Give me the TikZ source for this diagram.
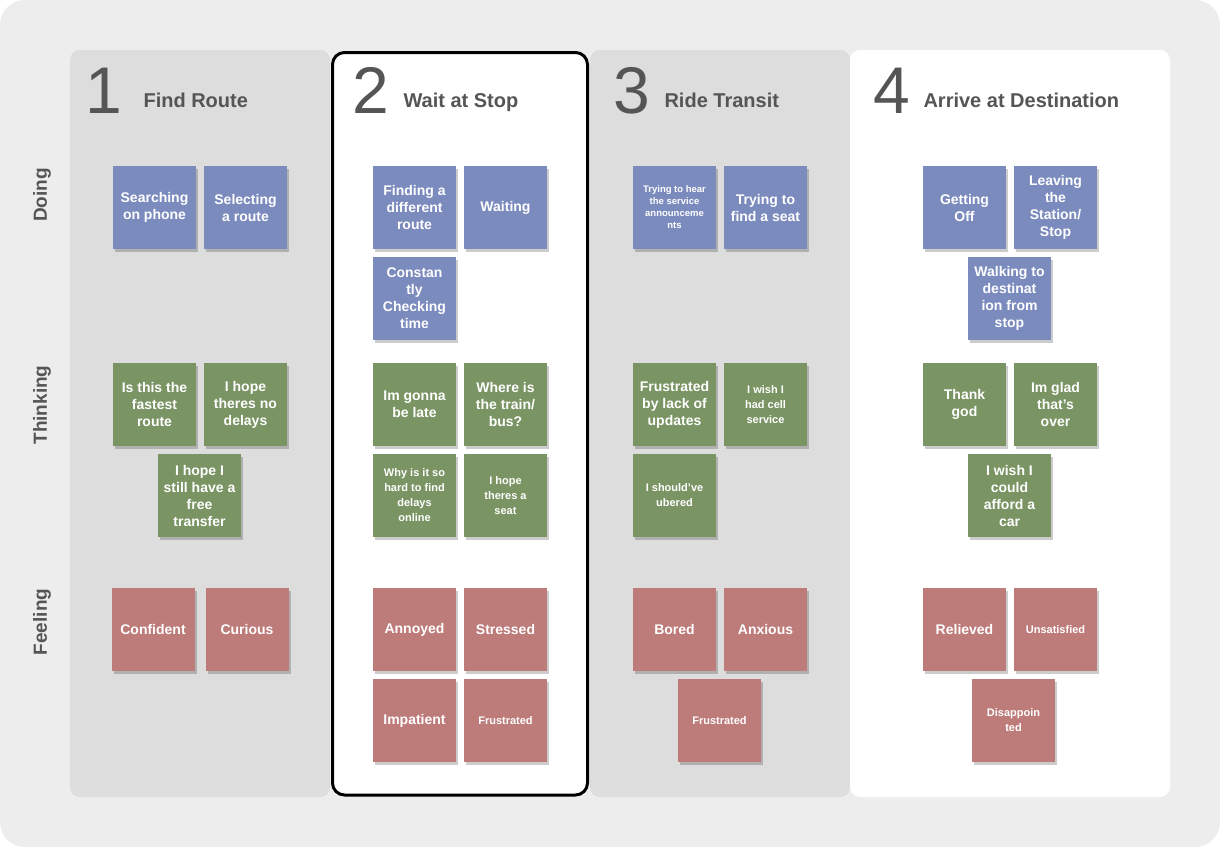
\documentclass[tikz,border=0pt]{standalone}
\usepackage{fontspec}
\setmainfont{Liberation Sans}
\usepackage{xcolor}
\usepackage{tikz}
\usetikzlibrary{shadows}

\definecolor{doingblue}{HTML}{7B8BBE}
\definecolor{thinkgreen}{HTML}{7A9464}
\definecolor{feelred}{HTML}{BD7B7A}
\definecolor{pagegray}{HTML}{EDEDED}
\definecolor{lanegray}{HTML}{DDDDDD}
\definecolor{headgray}{HTML}{555555}

\tikzset{
    note/.style={minimum width=83pt, minimum height=83pt, inner sep=0pt, align=center, text=white,
        font=\bfseries\fontsize{14}{17}\selectfont,
        drop shadow={shadow xshift=2pt, shadow yshift=-3pt, opacity=0.2, fill=black}},
    smallnote/.style={font=\bfseries\fontsize{11}{15}\selectfont},
    tinynote/.style={font=\bfseries\fontsize{9.5}{12}\selectfont},
    doing/.style={note, fill=doingblue},
    thinking/.style={note, fill=thinkgreen},
    feeling/.style={note, fill=feelred},
    stagenum/.style={anchor=base, text=headgray, font=\fontsize{66}{66}\selectfont},
    stagename/.style={anchor=base west, text=headgray, font=\bfseries\fontsize{20}{24}\selectfont},
    rowlabel/.style={rotate=90, text=headgray, font=\bfseries\fontsize{19}{22}\selectfont}
}

\begin{document}
\begin{tikzpicture}[x=1pt, y=-1pt]
    \useasboundingbox (0,0) rectangle (1220,847);
    \fill[white] (0,0) rectangle (1220,847);
    \fill[pagegray, rounded corners=25pt] (0,0) rectangle (1220,847);

    % stage lanes
    \fill[lanegray, rounded corners=10pt] (70,50) rectangle (330,797);
    \filldraw[fill=white, draw=black, line width=3pt, rounded corners=12pt] (332.5,52.5) rectangle (587.5,795);
    \fill[lanegray, rounded corners=10pt] (590,50) rectangle (850,797);
    \fill[white, rounded corners=10pt] (850,50) rectangle (1170,797);

    % row labels
    \node[rowlabel] (doinglbl) at (42,195) {Doing};
    \node[rowlabel] (thinklbl) at (42,405) {Thinking};
    \node[rowlabel] (feellbl) at (42,622) {Feeling};

    % headers
    \node[stagenum] (num1) at (104,113) {1};
    \node[stagename] (name1) at (140,107) {Find Route};
    \node[stagenum] (num2) at (371,113) {2};
    \node[stagename] (name2) at (400,107) {Wait at Stop};
    \node[stagenum] (num3) at (632,113) {3};
    \node[stagename] (name3) at (661,107) {Ride Transit};
    \node[stagenum] (num4) at (892,113) {4};
    \node[stagename] (name4) at (920,107) {Arrive at Destination};

    % 1 Find Route
    \node[doing] (search) at (154.5,207.5) {Searching\\on phone};
    \node[doing] (select) at (245.5,207.5) {Selecting\\a route};
    \node[thinking] (fastest) at (154.5,404.5) {Is this the\\fastest\\route};
    \node[thinking] (nodelay) at (245.5,404.5) {I hope\\theres no\\delays};
    \node[thinking] (transfer) at (199.5,495.5) {I hope I\\still have a\\free\\transfer};
    \node[feeling] (confident) at (153,629.5) {Confident};
    \node[feeling] (curious) at (247,629.5) {Curious};

    % 2 Wait at Stop
    \node[doing] (diffroute) at (414.5,207.5) {Finding a\\different\\route};
    \node[doing] (waiting) at (505.5,207.5) {Waiting};
    \node[doing] (checktime) at (414.5,298.5) {Constan\\tly\\Checking\\time};
    \node[thinking] (late) at (414.5,404.5) {Im gonna\\be late};
    \node[thinking] (whereis) at (505.5,404.5) {Where is\\the train/\\bus?};
    \node[thinking, smallnote] (whyhard) at (414.5,495.5) {Why is it so\\hard to find\\delays\\online};
    \node[thinking, smallnote] (seat) at (505.5,495.5) {I hope\\theres a\\seat};
    \node[feeling] (annoyed) at (414.5,629.5) {Annoyed};
    \node[feeling] (stressed) at (505.5,629.5) {Stressed};
    \node[feeling] (impatient) at (414.5,720.5) {Impatient};
    \node[feeling, smallnote] (frustrated2) at (505.5,720.5) {Frustrated};

    % 3 Ride Transit
    \node[doing, tinynote] (hear) at (674.5,207.5) {Trying to hear\\the service\\announceme\\nts};
    \node[doing] (findseat) at (765.5,207.5) {Trying to\\find a seat};
    \node[thinking] (updates) at (674.5,404.5) {Frustrated\\by lack of\\updates};
    \node[thinking, smallnote] (cell) at (765.5,404.5) {I wish I\\had cell\\service};
    \node[thinking, smallnote] (ubered) at (674.5,495.5) {I should've\\ubered};
    \node[feeling] (bored) at (674.5,629.5) {Bored};
    \node[feeling] (anxious) at (765.5,629.5) {Anxious};
    \node[feeling, smallnote] (frustrated3) at (719.5,720.5) {Frustrated};

    % 4 Arrive at Destination
    \node[doing] (getoff) at (964.5,207.5) {Getting\\Off};
    \node[doing] (leaving) at (1055.5,207.5) {Leaving\\the\\Station/\\Stop};
    \node[doing] (walking) at (1009.5,298.5) {Walking to\\destinat\\ion from\\stop};
    \node[thinking] (thankgod) at (964.5,404.5) {Thank\\god};
    \node[thinking] (glad) at (1055.5,404.5) {Im glad\\that's\\over};
    \node[thinking] (afford) at (1009.5,495.5) {I wish I\\could\\afford a\\car};
    \node[feeling] (relieved) at (964.5,629.5) {Relieved};
    \node[feeling, smallnote] (unsatisfied) at (1055.5,629.5) {Unsatisfied};
    \node[feeling, smallnote] (disappointed) at (1013.5,720.5) {Disappoin\\ted};
\end{tikzpicture}
\end{document}
